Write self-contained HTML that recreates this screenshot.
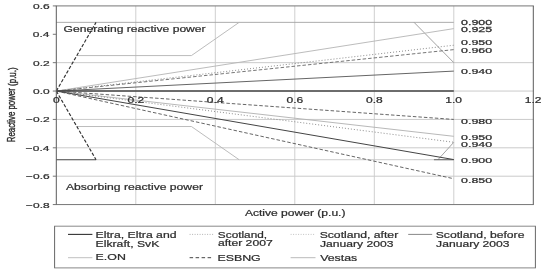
<!DOCTYPE html>
<html><head><meta charset="utf-8"><style>
html,body{margin:0;padding:0;background:#fff;width:550px;height:274px;overflow:hidden}
svg{display:block;will-change:transform}
text{font-family:"Liberation Sans",sans-serif}
</style></head><body>
<svg width="550" height="274" viewBox="0 0 550 274">
<rect width="550" height="274" fill="#fff"/>
<line x1="135.8" y1="5.91" x2="135.8" y2="204.57" stroke="#cfcfcf" stroke-width="1" stroke-linecap="butt"/>
<line x1="215.3" y1="5.91" x2="215.3" y2="204.57" stroke="#cfcfcf" stroke-width="1" stroke-linecap="butt"/>
<line x1="294.8" y1="5.91" x2="294.8" y2="204.57" stroke="#cfcfcf" stroke-width="1" stroke-linecap="butt"/>
<line x1="374.3" y1="5.91" x2="374.3" y2="204.57" stroke="#cfcfcf" stroke-width="1" stroke-linecap="butt"/>
<line x1="453.8" y1="5.91" x2="453.8" y2="204.57" stroke="#cfcfcf" stroke-width="1" stroke-linecap="butt"/>
<line x1="56.3" y1="62.67" x2="533.3" y2="62.67" stroke="#cacaca" stroke-width="1" stroke-linecap="butt"/>
<line x1="56.3" y1="91.05" x2="533.3" y2="91.05" stroke="#cacaca" stroke-width="1" stroke-linecap="butt"/>
<line x1="56.3" y1="119.43" x2="533.3" y2="119.43" stroke="#cacaca" stroke-width="1" stroke-linecap="butt"/>
<line x1="56.3" y1="147.81" x2="533.3" y2="147.81" stroke="#cacaca" stroke-width="1" stroke-linecap="butt"/>
<line x1="56.3" y1="176.19" x2="533.3" y2="176.19" stroke="#cacaca" stroke-width="1" stroke-linecap="butt"/>
<line x1="56.3" y1="22.37" x2="453.8" y2="22.37" stroke="#a4a4a4" stroke-width="0.9" stroke-linecap="butt"/>
<line x1="56.3" y1="159.73" x2="453.8" y2="159.73" stroke="#c4c4c4" stroke-width="0.9" stroke-linecap="butt"/>
<polyline points="76.83,55.57 191.45,55.57 239.15,22.37" fill="none" stroke="#b4b4b4" stroke-width="0.9" stroke-linejoin="miter"/>
<polyline points="76.83,126.53 191.45,126.53 239.15,159.73" fill="none" stroke="#b4b4b4" stroke-width="0.9" stroke-linejoin="miter"/>
<line x1="414.05" y1="22.37" x2="453.8" y2="62.67" stroke="#999" stroke-width="0.9" stroke-linecap="butt"/>
<line x1="437.9" y1="159.73" x2="453.8" y2="142.28" stroke="#999" stroke-width="0.9" stroke-linecap="butt"/>
<line x1="56.3" y1="159.73" x2="96.05" y2="159.73" stroke="#555" stroke-width="1" stroke-linecap="butt"/>
<line x1="433.93" y1="159.73" x2="453.8" y2="159.73" stroke="#666" stroke-width="1" stroke-linecap="butt"/>
<line x1="56.3" y1="91.05" x2="96.05" y2="22.37" stroke="#333" stroke-width="1.15" stroke-dasharray="3.4,1.7" stroke-linecap="butt"/>
<line x1="56.3" y1="91.05" x2="96.05" y2="159.73" stroke="#333" stroke-width="1.15" stroke-dasharray="3.4,1.7" stroke-linecap="butt"/>
<line x1="56.3" y1="91.05" x2="453.8" y2="28.61" stroke="#b4b4b4" stroke-width="0.9" stroke-linecap="butt"/>
<line x1="56.3" y1="91.05" x2="453.8" y2="45.22" stroke="#808080" stroke-width="0.9" stroke-dasharray="1,2" stroke-linecap="butt"/>
<line x1="56.3" y1="91.05" x2="453.8" y2="49.62" stroke="#666" stroke-width="0.9" stroke-dasharray="3.5,2" stroke-linecap="butt"/>
<line x1="56.3" y1="91.05" x2="453.8" y2="71.1" stroke="#666" stroke-width="1.0" stroke-linecap="butt"/>
<line x1="56.3" y1="91.05" x2="453.8" y2="119.43" stroke="#555" stroke-width="0.9" stroke-dasharray="3.5,2" stroke-linecap="butt"/>
<line x1="56.3" y1="91.05" x2="453.8" y2="136.32" stroke="#b0b0b0" stroke-width="0.9" stroke-linecap="butt"/>
<line x1="56.3" y1="91.05" x2="453.8" y2="142.28" stroke="#808080" stroke-width="0.9" stroke-dasharray="1,2" stroke-linecap="butt"/>
<line x1="56.3" y1="91.05" x2="453.8" y2="159.59" stroke="#444" stroke-width="1.0" stroke-linecap="butt"/>
<line x1="56.3" y1="91.05" x2="453.8" y2="178.74" stroke="#555" stroke-width="0.9" stroke-dasharray="3.5,2" stroke-linecap="butt"/>
<line x1="56.3" y1="91.05" x2="453.8" y2="91.05" stroke="#444" stroke-width="1.4" stroke-linecap="butt"/>
<line x1="55.8" y1="5.91" x2="533.8" y2="5.91" stroke="#777" stroke-width="1" stroke-linecap="butt"/>
<line x1="55.8" y1="204.57" x2="533.8" y2="204.57" stroke="#777" stroke-width="1" stroke-linecap="butt"/>
<line x1="56.3" y1="5.91" x2="56.3" y2="204.57" stroke="#5a5a5a" stroke-width="1" stroke-linecap="butt"/>
<line x1="533.3" y1="5.91" x2="533.3" y2="204.57" stroke="#5a5a5a" stroke-width="1" stroke-linecap="butt"/>
<line x1="52.8" y1="5.91" x2="56.3" y2="5.91" stroke="#777" stroke-width="1" stroke-linecap="butt"/>
<line x1="52.8" y1="34.29" x2="56.3" y2="34.29" stroke="#777" stroke-width="1" stroke-linecap="butt"/>
<line x1="52.8" y1="62.67" x2="56.3" y2="62.67" stroke="#777" stroke-width="1" stroke-linecap="butt"/>
<line x1="52.8" y1="91.05" x2="56.3" y2="91.05" stroke="#777" stroke-width="1" stroke-linecap="butt"/>
<line x1="52.8" y1="119.43" x2="56.3" y2="119.43" stroke="#777" stroke-width="1" stroke-linecap="butt"/>
<line x1="52.8" y1="147.81" x2="56.3" y2="147.81" stroke="#777" stroke-width="1" stroke-linecap="butt"/>
<line x1="52.8" y1="176.19" x2="56.3" y2="176.19" stroke="#777" stroke-width="1" stroke-linecap="butt"/>
<line x1="52.8" y1="204.57" x2="56.3" y2="204.57" stroke="#777" stroke-width="1" stroke-linecap="butt"/>
<text transform="translate(33.05,8.91) scale(1.500,1)" font-size="8.0" fill="#2e2e2e" stroke="#2e2e2e" stroke-width="0.22">0.6</text>
<text transform="translate(32.87,37.29) scale(1.500,1)" font-size="8.0" fill="#2e2e2e" stroke="#2e2e2e" stroke-width="0.22">0.4</text>
<text transform="translate(33.12,65.67) scale(1.500,1)" font-size="8.0" fill="#2e2e2e" stroke="#2e2e2e" stroke-width="0.22">0.2</text>
<text transform="translate(32.99,94.05) scale(1.500,1)" font-size="8.0" fill="#2e2e2e" stroke="#2e2e2e" stroke-width="0.22">0.0</text>
<text transform="translate(26.11,122.43) scale(1.500,1)" font-size="8.0" fill="#2e2e2e" stroke="#2e2e2e" stroke-width="0.22">−0.2</text>
<text transform="translate(25.86,150.81) scale(1.500,1)" font-size="8.0" fill="#2e2e2e" stroke="#2e2e2e" stroke-width="0.22">−0.4</text>
<text transform="translate(26.04,179.19) scale(1.500,1)" font-size="8.0" fill="#2e2e2e" stroke="#2e2e2e" stroke-width="0.22">−0.6</text>
<text transform="translate(26.03,207.57) scale(1.500,1)" font-size="8.0" fill="#2e2e2e" stroke="#2e2e2e" stroke-width="0.22">−0.8</text>
<text transform="translate(52.95,102.75) scale(1.470,1)" font-size="8.2" fill="#2e2e2e" stroke="#2e2e2e" stroke-width="0.22">0</text>
<text transform="translate(127.49,102.75) scale(1.470,1)" font-size="8.2" fill="#2e2e2e" stroke="#2e2e2e" stroke-width="0.22">0.2</text>
<text transform="translate(206.86,102.75) scale(1.470,1)" font-size="8.2" fill="#2e2e2e" stroke="#2e2e2e" stroke-width="0.22">0.4</text>
<text transform="translate(286.45,102.75) scale(1.470,1)" font-size="8.2" fill="#2e2e2e" stroke="#2e2e2e" stroke-width="0.22">0.6</text>
<text transform="translate(365.95,102.75) scale(1.470,1)" font-size="8.2" fill="#2e2e2e" stroke="#2e2e2e" stroke-width="0.22">0.8</text>
<text transform="translate(445.2,102.75) scale(1.470,1)" font-size="8.2" fill="#2e2e2e" stroke="#2e2e2e" stroke-width="0.22">1.0</text>
<text transform="translate(524.77,102.75) scale(1.470,1)" font-size="8.2" fill="#2e2e2e" stroke="#2e2e2e" stroke-width="0.22">1.2</text>
<text transform="translate(461.12,25.36) scale(1.650,1)" font-size="7.5" fill="#2e2e2e" stroke="#2e2e2e" stroke-width="0.25">0.900</text>
<text transform="translate(461.12,32.3) scale(1.652,1)" font-size="7.5" fill="#2e2e2e" stroke="#2e2e2e" stroke-width="0.25">0.925</text>
<text transform="translate(461.12,45.26) scale(1.587,1)" font-size="7.8" fill="#2e2e2e" stroke="#2e2e2e" stroke-width="0.25">0.950</text>
<text transform="translate(461.12,53.06) scale(1.587,1)" font-size="7.8" fill="#2e2e2e" stroke="#2e2e2e" stroke-width="0.25">0.960</text>
<text transform="translate(461.12,73.66) scale(1.587,1)" font-size="7.8" fill="#2e2e2e" stroke="#2e2e2e" stroke-width="0.25">0.940</text>
<text transform="translate(461.12,124.11) scale(1.587,1)" font-size="7.8" fill="#2e2e2e" stroke="#2e2e2e" stroke-width="0.25">0.980</text>
<text transform="translate(461.12,139.56) scale(1.587,1)" font-size="7.8" fill="#2e2e2e" stroke="#2e2e2e" stroke-width="0.25">0.950</text>
<text transform="translate(461.12,147.11) scale(1.587,1)" font-size="7.8" fill="#2e2e2e" stroke="#2e2e2e" stroke-width="0.25">0.940</text>
<text transform="translate(461.12,162.66) scale(1.587,1)" font-size="7.8" fill="#2e2e2e" stroke="#2e2e2e" stroke-width="0.25">0.900</text>
<text transform="translate(461.12,182.66) scale(1.587,1)" font-size="7.8" fill="#2e2e2e" stroke="#2e2e2e" stroke-width="0.25">0.850</text>
<text transform="translate(63.49,32.1) scale(1.480,1)" font-size="8.2" fill="#2e2e2e" stroke="#2e2e2e" stroke-width="0.2">Generating reactive power</text>
<text transform="translate(65.88,189.7) scale(1.483,1)" font-size="8.2" fill="#2e2e2e" stroke="#2e2e2e" stroke-width="0.2">Absorbing reactive power</text>
<text transform="translate(244.88,215.6) scale(1.474,1)" font-size="8.2" fill="#2e2e2e" stroke="#2e2e2e" stroke-width="0.2">Active power (p.u.)</text>
<text transform="translate(15.0,142.14) rotate(-90) scale(1.004,1.3)" font-size="7.8" fill="#2e2e2e" stroke="#2e2e2e" stroke-width="0.3">Reactive power</text>
<text transform="translate(15.7,85.89) rotate(-90) scale(1.015,1.3)" font-size="7.8" fill="#2e2e2e" stroke="#2e2e2e" stroke-width="0.3">(p.u.)</text>
<line x1="54.1" y1="226.2" x2="535.9" y2="226.2" stroke="#888" stroke-width="1" stroke-linecap="butt"/>
<line x1="54.1" y1="267.9" x2="535.9" y2="267.9" stroke="#888" stroke-width="1" stroke-linecap="butt"/>
<line x1="54.6" y1="226.2" x2="54.6" y2="267.9" stroke="#666" stroke-width="1" stroke-linecap="butt"/>
<line x1="535.4" y1="226.2" x2="535.4" y2="267.9" stroke="#666" stroke-width="1" stroke-linecap="butt"/>
<line x1="68" y1="234.4" x2="92.4" y2="234.4" stroke="#333" stroke-width="1.1" stroke-linecap="butt"/>
<line x1="68" y1="257.7" x2="92.4" y2="257.7" stroke="#c0c0c0" stroke-width="1" stroke-linecap="butt"/>
<line x1="189.6" y1="234.4" x2="213.6" y2="234.4" stroke="#aaa" stroke-width="0.9" stroke-dasharray="1,1.5" stroke-linecap="butt"/>
<line x1="189.6" y1="257.7" x2="213.6" y2="257.7" stroke="#444" stroke-width="1" stroke-dasharray="3.5,2.5" stroke-linecap="butt"/>
<line x1="290.6" y1="234.4" x2="315.5" y2="234.4" stroke="#bbb" stroke-width="0.9" stroke-dasharray="1,1.5" stroke-linecap="butt"/>
<line x1="290.6" y1="257.7" x2="315.5" y2="257.7" stroke="#bbb" stroke-width="1" stroke-linecap="butt"/>
<line x1="408.2" y1="234.4" x2="432.2" y2="234.4" stroke="#888" stroke-width="1" stroke-linecap="butt"/>
<text transform="translate(95.59,238) scale(1.495,1)" font-size="8.2" fill="#2e2e2e" stroke="#2e2e2e" stroke-width="0.2">Eltra, Eltra and</text>
<text transform="translate(95.6,246.6) scale(1.491,1)" font-size="8.2" fill="#2e2e2e" stroke="#2e2e2e" stroke-width="0.2">Elkraft, SvK</text>
<text transform="translate(95.58,259.8) scale(1.512,1)" font-size="8.2" fill="#2e2e2e" stroke="#2e2e2e" stroke-width="0.2">E.ON</text>
<text transform="translate(217.87,237.6) scale(1.439,1)" font-size="8.2" fill="#2e2e2e" stroke="#2e2e2e" stroke-width="0.2">Scotland,</text>
<text transform="translate(217.89,245.8) scale(1.485,1)" font-size="8.2" fill="#2e2e2e" stroke="#2e2e2e" stroke-width="0.2">after 2007</text>
<text transform="translate(217.38,260.8) scale(1.513,1)" font-size="8.2" fill="#2e2e2e" stroke="#2e2e2e" stroke-width="0.2">ESBNG</text>
<text transform="translate(319.65,238.2) scale(1.489,1)" font-size="8.2" fill="#2e2e2e" stroke="#2e2e2e" stroke-width="0.2">Scotland, after</text>
<text transform="translate(320.01,246.6) scale(1.480,1)" font-size="8.2" fill="#2e2e2e" stroke="#2e2e2e" stroke-width="0.2">January 2003</text>
<text transform="translate(320.15,261) scale(1.507,1)" font-size="8.2" fill="#2e2e2e" stroke="#2e2e2e" stroke-width="0.2">Vestas</text>
<text transform="translate(435.75,238.2) scale(1.488,1)" font-size="8.2" fill="#2e2e2e" stroke="#2e2e2e" stroke-width="0.2">Scotland, before</text>
<text transform="translate(436.11,246.8) scale(1.480,1)" font-size="8.2" fill="#2e2e2e" stroke="#2e2e2e" stroke-width="0.2">January 2003</text>
</svg>
</body></html>
